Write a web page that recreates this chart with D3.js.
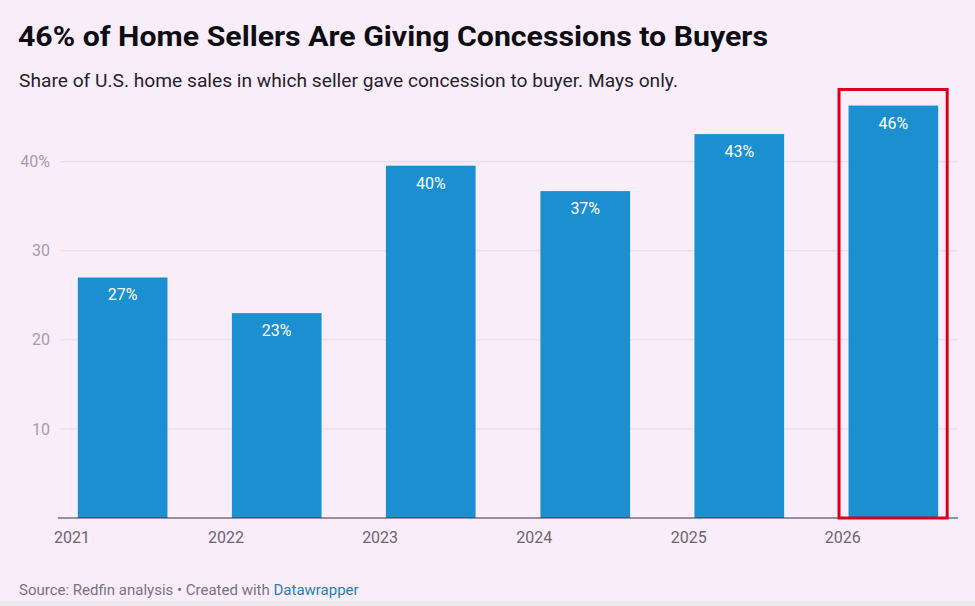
<!DOCTYPE html>
<html>
<head>
<meta charset="utf-8">
<script src="https://cdn.jsdelivr.net/npm/d3@7"></script>
<style>
  html, body { margin: 0; padding: 0; background: #f9edfa; }
  svg { display: block; font-family: Roboto, "Noto Sans", sans-serif; }
  .title { font-size: 27.5px; font-weight: 700; fill: #0f0d14; }
  .subtitle { font-size: 18.5px; fill: #26222b; }
  .grid line { stroke: #e4dbe7; stroke-width: 1; }
  .y-label { font-size: 16px; fill: #a59ea9; }
  .x-label { font-size: 16px; fill: #6c6570; }
  .bar { fill: #1b8fcf; }
  .bar-label { font-size: 16px; fill: #ffffff; }
  .baseline { stroke: #3a3540; stroke-width: 1.2; }
  .highlight { fill: none; stroke: #d9001b; stroke-width: 3; }
  .footer { font-size: 15px; fill: #7a737e; }
  .footer .link { fill: #2a7db5; }
</style>
</head>
<body>
<div id="chart"></div>
<script>
// ──── Data ────
const years = [2021, 2022, 2023, 2024, 2025, 2026];
const shares = [27.0, 23.0, 39.55, 36.7, 43.1, 46.3];
const yTicks = [10, 20, 30, 40];
const highlightYear = 2026;

const W = 975, H = 606;
const plot = { left: 58, right: 958, top: 161.7, bottom: 518 };

const svg = d3.select("#chart")
    .append("svg")
    .attr("width", W)
    .attr("height", H)
    .attr("viewBox", `0 0 ${W} ${H}`);

svg.append("rect").attr("width", W).attr("height", H).attr("fill", "#f9edfa");
svg.append("rect").attr("y", 601).attr("width", W).attr("height", 5).attr("fill", "#eee9ef");

// ──── Scales ────
// bars sit on May of each year, ticks on Jan 1
const xScale = d3.scaleTime()
    .domain([new Date(2021, 0, 1), new Date(2026, 0, 1)])
    .range([72, 842.7]);

const yScale = d3.scaleLinear()
    .domain([0, 40])
    .range([plot.bottom, plot.top]);

const step = xScale(new Date(2022, 0, 1)) - xScale(new Date(2021, 0, 1));
const barWidth = step * 0.582;
const barX = y => xScale(new Date(y, 4, 1)) - barWidth / 2;

// ──── Header ────
svg.append("text")
    .attr("class", "title")
    .attr("x", 18)
    .attr("y", 46)
    .attr("textLength", 750)
    .attr("lengthAdjust", "spacingAndGlyphs")
    .text("46% of Home Sellers Are Giving Concessions to Buyers");

svg.append("text")
    .attr("class", "subtitle")
    .attr("x", 19)
    .attr("y", 87)
    .attr("textLength", 659)
    .attr("lengthAdjust", "spacingAndGlyphs")
    .text("Share of U.S. home sales in which seller gave concession to buyer. Mays only.");

// ──── Grid + y labels ────
svg.append("g")
    .attr("class", "grid")
    .selectAll("line")
    .data(yTicks)
    .join("line")
    .attr("x1", 60)
    .attr("x2", plot.right)
    .attr("y1", d => yScale(d))
    .attr("y2", d => yScale(d));

svg.append("g")
    .selectAll("text")
    .data(yTicks)
    .join("text")
    .attr("class", "y-label")
    .attr("x", 50)
    .attr("y", d => yScale(d))
    .attr("dy", "0.35em")
    .attr("text-anchor", "end")
    .text((d, i) => i === yTicks.length - 1 ? d + "%" : d);

// ──── Bars ────
const rows = years.map((y, i) => ({ year: y, value: shares[i] }));

svg.append("g")
    .selectAll("rect")
    .data(rows)
    .join("rect")
    .attr("class", "bar")
    .attr("x", d => barX(d.year))
    .attr("y", d => yScale(d.value))
    .attr("width", barWidth)
    .attr("height", d => yScale(0) - yScale(d.value));

svg.append("g")
    .selectAll("text")
    .data(rows)
    .join("text")
    .attr("class", "bar-label")
    .attr("x", d => barX(d.year) + barWidth / 2)
    .attr("y", d => yScale(d.value) + 23)
    .attr("text-anchor", "middle")
    .text(d => Math.round(d.value) + "%");

// baseline
svg.append("line")
    .attr("class", "baseline")
    .attr("x1", plot.left)
    .attr("x2", plot.right)
    .attr("y1", yScale(0))
    .attr("y2", yScale(0));

// ──── X labels ────
svg.append("g")
    .selectAll("text")
    .data(years)
    .join("text")
    .attr("class", "x-label")
    .attr("x", d => xScale(new Date(d, 0, 1)))
    .attr("y", 543)
    .attr("text-anchor", "middle")
    .text(d => d);

// ──── Highlight box ────
const hx = barX(highlightYear);
svg.append("rect")
    .attr("class", "highlight")
    .attr("x", hx - 9.5)
    .attr("y", 89.5)
    .attr("width", barWidth + 18.5)
    .attr("height", yScale(0) - 89.5);

// ──── Footer ────
const footer = svg.append("text")
    .attr("class", "footer")
    .attr("x", 19)
    .attr("y", 595);
footer.append("tspan").text("Source: Redfin analysis \u2022 Created with ");
footer.append("tspan").attr("class", "link").text("Datawrapper");
</script>
</body>
</html>
